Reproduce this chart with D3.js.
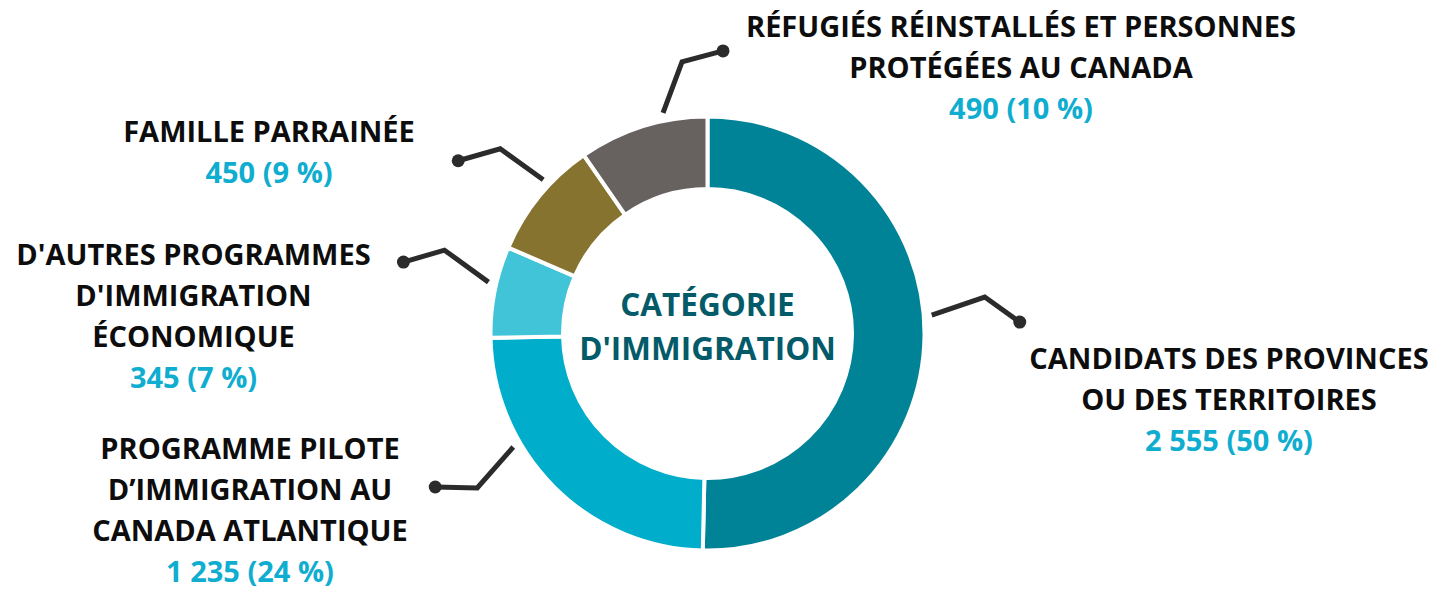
<!DOCTYPE html>
<html lang="fr">
<head>
<meta charset="utf-8">
<script src="https://cdn.jsdelivr.net/npm/d3@7.9.0/dist/d3.min.js"></script>
<style>
  html, body { margin: 0; padding: 0; background: #fff; }
  svg { display: block; }
  text { font-family: "Open Sans", sans-serif; font-weight: 700; }
</style>
</head>
<body>
<svg width="1447" height="589"></svg>
<script>
// Chart data (clockwise from 12 o'clock)
const categories = [
  "Candidats des provinces ou des territoires",
  "Programme pilote d'immigration au Canada atlantique",
  "D'autres programmes d'immigration économique",
  "Famille parrainée",
  "Réfugiés réinstallés et personnes protégées au Canada"
];
const labelLines = [
  ["CANDIDATS DES PROVINCES", "OU DES TERRITOIRES"],
  ["PROGRAMME PILOTE", "D’IMMIGRATION AU", "CANADA ATLANTIQUE"],
  ["D'AUTRES PROGRAMMES", "D'IMMIGRATION", "ÉCONOMIQUE"],
  ["FAMILLE PARRAINÉE"],
  ["RÉFUGIÉS RÉINSTALLÉS ET PERSONNES", "PROTÉGÉES AU CANADA"]
];
const values = [2555, 1235, 345, 450, 490];
const colors = ["#008396", "#00adcb", "#41c3d8", "#877330", "#67625f"];
const centerTitle = ["CATÉGORIE", "D'IMMIGRATION"];

// Layout
const cx = 707.5, cy = 333.5;
const outerR = 217, innerR = 144.5;
const lineGap = 41;
const labelLayout = [
  {x: 1229, y: 369, angle: 85.3,  elbow: [53, -18], end: [35, 25]},
  {x: 250,  y: 459, angle: 239.7, elbow: [-36, 41], end: [-42, -1]},
  {x: 193.5, y: 265, angle: 283.2, elbow: [-44, -32], end: [-41, 12]},
  {x: 269,  y: 142, angle: 313.1, elbow: [-43, -31], end: [-42, 12]},
  {x: 1021, y: 37,  angle: 348.6, elbow: [19, -51], end: [41, -11]}
];

const total = d3.sum(values);
const fr = d3.formatLocale({decimal: ",", thousands: " ", grouping: [3], currency: ["", " $"]});
const fmt = fr.format(",d");

const data = categories.map((c, i) => ({
  category: c,
  lines: labelLines[i],
  value: values[i],
  color: colors[i],
  layout: labelLayout[i]
}));

const svg = d3.select("svg");
const g = svg.append("g").attr("transform", `translate(${cx},${cy})`);

const pie = d3.pie().sort(null).value(d => d.value);
const arc = d3.arc().innerRadius(innerR).outerRadius(outerR);

g.selectAll("path.slice")
  .data(pie(data))
  .join("path")
  .attr("class", "slice")
  .attr("d", arc)
  .attr("fill", d => d.data.color)
  .attr("stroke", "#fff")
  .attr("stroke-width", 4)
  .attr("stroke-linejoin", "miter");

// leader lines
const polar = (deg, r) => {
  const a = deg * Math.PI / 180;
  return [r * Math.sin(a), -r * Math.cos(a)];
};
const leaderR = 225;

const leaders = g.selectAll("g.leader")
  .data(data)
  .join("g")
  .attr("class", "leader");

leaders.each(function(d) {
  const s = polar(d.layout.angle, leaderR);
  const e = [s[0] + d.layout.elbow[0], s[1] + d.layout.elbow[1]];
  const t = [e[0] + d.layout.end[0], e[1] + d.layout.end[1]];
  const sel = d3.select(this);
  sel.append("path")
    .attr("d", d3.line()([s, e, t]))
    .attr("fill", "none")
    .attr("stroke", "#2b2b2b")
    .attr("stroke-width", 5)
    .attr("stroke-linejoin", "miter");
  sel.append("circle")
    .attr("cx", t[0])
    .attr("cy", t[1])
    .attr("r", 6.5)
    .attr("fill", "#2b2b2b");
});

// labels
const labels = svg.selectAll("text.label")
  .data(data)
  .join("text")
  .attr("class", "label")
  .attr("text-anchor", "middle")
  .attr("font-size", 29);

labels.each(function(d) {
  const t = d3.select(this);
  d.lines.forEach((ln, j) => {
    t.append("tspan")
      .attr("x", d.layout.x)
      .attr("y", d.layout.y + j * lineGap)
      .attr("fill", "#0d0d0d")
      .text(ln);
  });
  t.append("tspan")
    .attr("x", d.layout.x)
    .attr("y", d.layout.y + d.lines.length * lineGap)
    .attr("fill", "#0fadcf")
    .text(`${fmt(d.value)} (${Math.round(100 * d.value / total)} %)`);
});

// centre title
svg.append("text")
  .attr("text-anchor", "middle")
  .attr("font-size", 31.5)
  .attr("fill", "#035b6a")
  .selectAll("tspan")
  .data(centerTitle)
  .join("tspan")
  .attr("x", cx)
  .attr("y", (d, i) => 316 + i * 44)
  .text(d => d);
</script>
</body>
</html>
